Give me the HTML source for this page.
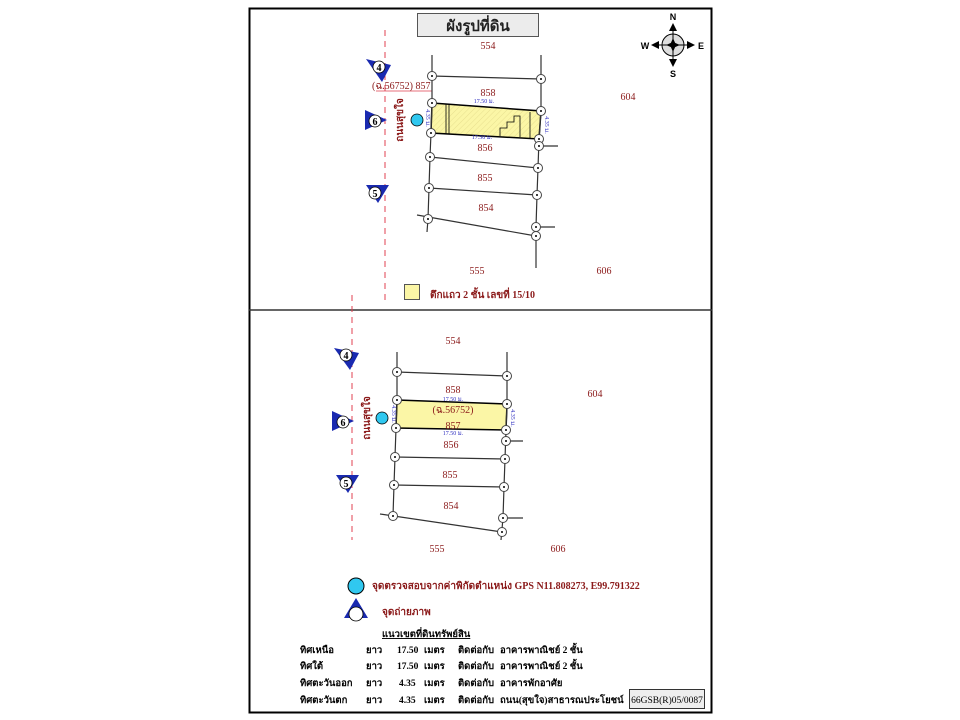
<!DOCTYPE html>
<html><head><meta charset="utf-8"><style>
html,body{margin:0;padding:0;background:#fff;}
svg{display:block;}
text{font-family:"Liberation Serif","Noto Serif CJK SC","Noto Sans CJK SC",serif;}
.r{fill:#8b1a1a;font-size:10px;}
.b{fill:#3030c0;font-size:6px;}
.sans{font-family:"Liberation Sans",sans-serif;}
</style></head><body>
<svg width="960" height="720" viewBox="0 0 960 720" xmlns="http://www.w3.org/2000/svg">
<defs>
<g id="nd"><circle r="4.5" fill="#fff" stroke="#444" stroke-width="1"/><circle r="1" fill="#000"/></g>
<pattern id="hp" width="4" height="4" patternUnits="userSpaceOnUse" patternTransform="rotate(45)"><rect width="4" height="4" fill="#fbf6a6"/><line x1="0" y1="0" x2="0" y2="4" stroke="#e8e090" stroke-width="1"/></pattern>
</defs>
<rect x="249.5" y="8.5" width="462" height="704" fill="#fff" stroke="#000" stroke-width="2"/>
<line x1="249" y1="310" x2="712" y2="310" stroke="#333" stroke-width="1.5"/>
<rect x="417.5" y="13.5" width="121" height="23" fill="#ececec" stroke="#555"/>
<text x="478" y="31" text-anchor="middle" font-size="15" font-weight="bold" fill="#222">ผังรูปที่ดิน</text>

<!-- compass -->
<g transform="translate(673,45)">
<circle r="11" fill="#ddd" stroke="#000" stroke-width="1"/>
<line x1="-16" y1="0" x2="16" y2="0" stroke="#000"/><line x1="0" y1="-16" x2="0" y2="16" stroke="#000"/>
<polygon points="0,-7 3,0 0,7 -3,0" fill="#000"/><polygon points="-7,0 0,-3 7,0 0,3" fill="#000"/>
<polygon points="0,-22 -4,-14 4,-14" fill="#000"/><polygon points="0,22 -4,14 4,14" fill="#000"/>
<polygon points="-22,0 -14,-4 -14,4" fill="#000"/><polygon points="22,0 14,-4 14,4" fill="#000"/>
<text class="sans" x="0" y="-25" text-anchor="middle" font-size="9" font-weight="bold">N</text>
<text class="sans" x="0" y="32" text-anchor="middle" font-size="9" font-weight="bold">S</text>
<text class="sans" x="-28" y="4" text-anchor="middle" font-size="9" font-weight="bold">W</text>
<text class="sans" x="28" y="4" text-anchor="middle" font-size="9" font-weight="bold">E</text>
</g>

<!-- TOP DIAGRAM -->
<line x1="385" y1="30" x2="385" y2="300" stroke="#e04050" stroke-dasharray="6,5"/>
<polygon points="432,103 541,111 539,139 431,133" fill="url(#hp)" stroke="#000" stroke-width="1.5"/>
<g stroke="#000" fill="none" stroke-width="0.8">
<line x1="446" y1="104" x2="446" y2="134"/><line x1="449" y1="104" x2="449" y2="134"/>
<polyline points="500,136 500,128 507,128 507,122 514,122 514,116 520,116 520,137"/>
<polyline points="530,138 530,112"/>
</g>
<polyline points="376,91 432,91 432,103" fill="none" stroke="#e04050" stroke-width="0.8"/>
<g stroke="#333" stroke-width="1.2" fill="none">
<polyline points="432,55 432,103 431,133 430,157 429,188 428,219 427,232"/>
<polyline points="541,55 541,111 539,139 538,168 537,195 536,227 536,268"/>
<line x1="432" y1="76" x2="541" y2="79"/>
<line x1="430" y1="157" x2="538" y2="168"/>
<line x1="429" y1="188" x2="537" y2="195"/>
<line x1="417" y1="215" x2="536" y2="236"/>
<line x1="539" y1="146" x2="558" y2="146"/>
<line x1="536" y1="227" x2="555" y2="227"/>
</g>
<g>
<use href="#nd" x="432" y="76"/><use href="#nd" x="432" y="103"/><use href="#nd" x="431" y="133"/><use href="#nd" x="430" y="157"/><use href="#nd" x="429" y="188"/><use href="#nd" x="428" y="219"/>
<use href="#nd" x="541" y="79"/><use href="#nd" x="541" y="111"/><use href="#nd" x="539" y="139"/><use href="#nd" x="539" y="146"/><use href="#nd" x="538" y="168"/><use href="#nd" x="537" y="195"/><use href="#nd" x="536" y="227"/><use href="#nd" x="536" y="236"/>
</g>
<text class="r" x="488" y="49" text-anchor="middle">554</text>
<text class="r" x="488" y="96" text-anchor="middle">858</text>
<text class="r" x="485" y="151" text-anchor="middle">856</text>
<text class="r" x="485" y="181" text-anchor="middle">855</text>
<text class="r" x="486" y="211" text-anchor="middle">854</text>
<text class="r" x="628" y="100" text-anchor="middle">604</text>
<text class="r" x="477" y="274" text-anchor="middle">555</text>
<text class="r" x="604" y="274" text-anchor="middle">606</text>
<text class="r" x="372" y="89">(ฉ.56752) 857</text>
<text class="b" x="484" y="103" text-anchor="middle">17.50 ม.</text>
<text class="b" x="482" y="139" text-anchor="middle">17.50 ม.</text>
<text class="b" transform="translate(426,118) rotate(90)" text-anchor="middle">4.35 ม.</text>
<text class="b" transform="translate(545,125) rotate(90)" text-anchor="middle">4.35 ม.</text>
<text class="r" font-size="14" font-weight="bold" transform="translate(403,120) rotate(-90)" text-anchor="middle">ถนนสุขใจ</text>
<circle cx="417" cy="120" r="6" fill="#30c8f0" stroke="#000" stroke-width="0.8"/>

<!-- markers -->
<g><polygon points="366,59 391,65 382,82" fill="#1a2ab0"/><circle cx="379" cy="67" r="6" fill="#fff" stroke="#000" stroke-width="0.8"/><text x="379" y="71" text-anchor="middle" font-size="10" font-weight="bold">4</text></g>
<g><polygon points="365,110 365,130 387,120" fill="#1a2ab0"/><circle cx="375" cy="121" r="6" fill="#fff" stroke="#000" stroke-width="0.8"/><text x="375" y="125" text-anchor="middle" font-size="10" font-weight="bold">6</text></g>
<g><polygon points="366,185 389,185 378,203" fill="#1a2ab0"/><circle cx="375" cy="193" r="6" fill="#fff" stroke="#000" stroke-width="0.8"/><text x="375" y="197" text-anchor="middle" font-size="10" font-weight="bold">5</text></g>

<rect x="404.5" y="284.5" width="15" height="15" fill="#fbf6a6" stroke="#555"/>
<text class="r" x="430" y="298" font-size="10" font-weight="bold">ตึกแถว 2 ชั้น เลขที่ 15/10</text>

<!-- BOTTOM DIAGRAM -->
<line x1="352" y1="295" x2="352" y2="540" stroke="#e04050" stroke-dasharray="6,5"/>
<polygon points="397,400 507,404 506,430 396,428" fill="#fbf6a6" stroke="#000" stroke-width="1.5"/>
<g stroke="#333" stroke-width="1.2" fill="none">
<polyline points="397,352 397,400 396,428 395,457 394,485 393,516 393,520"/>
<polyline points="507,352 507,404 506,430 505,459 504,487 503,518 501,540"/>
<line x1="397" y1="372" x2="507" y2="376"/>
<line x1="395" y1="457" x2="505" y2="459"/>
<line x1="394" y1="485" x2="504" y2="487"/>
<line x1="380" y1="514" x2="502" y2="532"/>
<line x1="506" y1="441" x2="523" y2="441"/>
<line x1="503" y1="518" x2="523" y2="518"/>
</g>
<g>
<use href="#nd" x="397" y="372"/><use href="#nd" x="397" y="400"/><use href="#nd" x="396" y="428"/><use href="#nd" x="395" y="457"/><use href="#nd" x="394" y="485"/><use href="#nd" x="393" y="516"/>
<use href="#nd" x="507" y="376"/><use href="#nd" x="507" y="404"/><use href="#nd" x="506" y="430"/><use href="#nd" x="506" y="441"/><use href="#nd" x="505" y="459"/><use href="#nd" x="504" y="487"/><use href="#nd" x="503" y="518"/><use href="#nd" x="502" y="532"/>
</g>
<text class="r" x="453" y="344" text-anchor="middle">554</text>
<text class="r" x="453" y="393" text-anchor="middle">858</text>
<text class="r" x="453" y="413" text-anchor="middle">(ฉ.56752)</text>
<text class="r" x="453" y="429" text-anchor="middle">857</text>
<text class="r" x="451" y="448" text-anchor="middle">856</text>
<text class="r" x="450" y="478" text-anchor="middle">855</text>
<text class="r" x="451" y="509" text-anchor="middle">854</text>
<text class="r" x="595" y="397" text-anchor="middle">604</text>
<text class="r" x="437" y="552" text-anchor="middle">555</text>
<text class="r" x="558" y="552" text-anchor="middle">606</text>
<text class="b" x="453" y="401" text-anchor="middle">17.50 ม.</text>
<text class="b" x="453" y="435" text-anchor="middle">17.50 ม.</text>
<text class="b" transform="translate(392,414) rotate(90)" text-anchor="middle">4.35 ม.</text>
<text class="b" transform="translate(511,418) rotate(90)" text-anchor="middle">4.35 ม.</text>
<text class="r" font-size="14" font-weight="bold" transform="translate(370,418) rotate(-90)" text-anchor="middle">ถนนสุขใจ</text>
<circle cx="382" cy="418" r="6" fill="#30c8f0" stroke="#000" stroke-width="0.8"/>
<g><polygon points="334,348 359,353 350,370" fill="#1a2ab0"/><circle cx="346" cy="355" r="6" fill="#fff" stroke="#000" stroke-width="0.8"/><text x="346" y="359" text-anchor="middle" font-size="10" font-weight="bold">4</text></g>
<g><polygon points="332,411 332,431 354,421" fill="#1a2ab0"/><circle cx="343" cy="422" r="6" fill="#fff" stroke="#000" stroke-width="0.8"/><text x="343" y="426" text-anchor="middle" font-size="10" font-weight="bold">6</text></g>
<g><polygon points="336,475 359,475 348,493" fill="#1a2ab0"/><circle cx="346" cy="483" r="6" fill="#fff" stroke="#000" stroke-width="0.8"/><text x="346" y="487" text-anchor="middle" font-size="10" font-weight="bold">5</text></g>

<!-- legend -->
<circle cx="356" cy="586" r="8" fill="#30c8f0" stroke="#000" stroke-width="1"/>
<text class="r" x="372" y="589" font-size="10" font-weight="bold">จุดตรวจสอบจากค่าพิกัดตำแหน่ง GPS N11.808273, E99.791322</text>
<polygon points="356,598 344,618 368,618" fill="#1a2ab0"/>
<circle cx="356" cy="614" r="7" fill="#fff" stroke="#000" stroke-width="0.8"/>
<text class="r" x="382" y="615" font-size="10" font-weight="bold">จุดถ่ายภาพ</text>

<g font-size="9.5" font-weight="bold" fill="#000">
<text x="382" y="637" text-decoration="underline">แนวเขตที่ดินทรัพย์สิน</text>
<text x="300" y="653">ทิศเหนือ</text><text x="366" y="653">ยาว</text><text x="397" y="653">17.50</text><text x="424" y="653">เมตร</text><text x="458" y="653">ติดต่อกับ</text><text x="500" y="653">อาคารพาณิชย์ 2 ชั้น</text>
<text x="300" y="669">ทิศใต้</text><text x="366" y="669">ยาว</text><text x="397" y="669">17.50</text><text x="424" y="669">เมตร</text><text x="458" y="669">ติดต่อกับ</text><text x="500" y="669">อาคารพาณิชย์ 2 ชั้น</text>
<text x="300" y="686">ทิศตะวันออก</text><text x="366" y="686">ยาว</text><text x="399" y="686">4.35</text><text x="424" y="686">เมตร</text><text x="458" y="686">ติดต่อกับ</text><text x="500" y="686">อาคารพักอาศัย</text>
<text x="300" y="703">ทิศตะวันตก</text><text x="366" y="703">ยาว</text><text x="399" y="703">4.35</text><text x="424" y="703">เมตร</text><text x="458" y="703">ติดต่อกับ</text><text x="500" y="703">ถนน(สุขใจ)สาธารณประโยชน์</text>
</g>
<rect x="629.5" y="689.5" width="75" height="19" fill="#eee" stroke="#333"/>
<text x="667" y="703" text-anchor="middle" font-size="9.5">66GSB(R)05/0087</text>
</svg>
</body></html>
